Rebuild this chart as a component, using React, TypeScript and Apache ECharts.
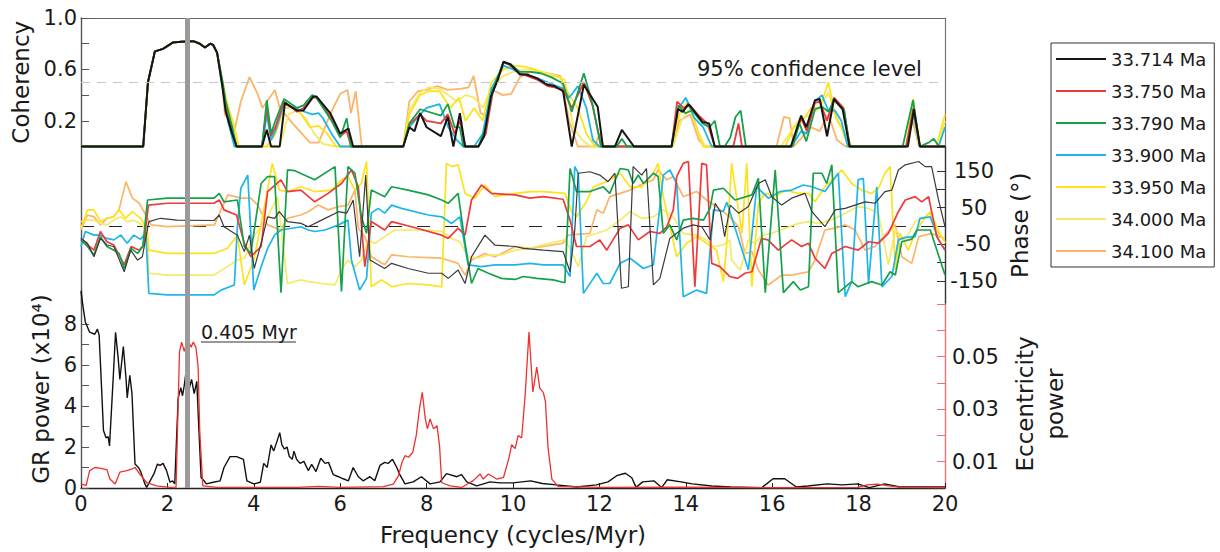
import React, { useEffect, useRef } from "react";
import * as echarts from "echarts";

// ---------- names & colours ----------
const seriesNames = ["33.714 Ma", "33.750 Ma", "33.790 Ma", "33.900 Ma", "33.950 Ma", "34.000 Ma", "34.100 Ma"];
const seriesColors = ["#151515", "#ee3a3a", "#16a04c", "#1eb6ea", "#fde21c", "#f5ea66", "#fbb468"];

// ---------- axis ticks ----------
const cohTickValues = [0.2, 0.4, 0.6, 0.8, 1.0];
const cohLabelValues = [0.2, 0.6, 1.0];
const phaseTickValues = [-150, -100, -50, 0, 50, 100, 150];
const phaseLabelValues = [-150, -50, 50, 150];
const grTickValues = [0, 1, 2, 3, 4, 5, 6, 7, 8];
const grLabelValues = [0, 2, 4, 6, 8];
const eccTickValues = [0.01, 0.02, 0.03, 0.04, 0.05, 0.06, 0.07];
const eccLabelValues = [0.01, 0.03, 0.05];
const CONFIDENCE_LEVEL = 0.5;
const BAND_PERIOD_MYR = 0.405;

// ---------- coherency (frequency, coherency) ----------
const cohPlateau = [[0, 0], [1.44, 0], [1.55, 0.5], [1.71, 0.74], [1.9, 0.76], [2.13, 0.81], [2.33, 0.815], [2.6, 0.82], [2.75, 0.8], [2.87, 0.77], [2.99, 0.8], [3.06, 0.79], [3.15, 0.73]];
const cohBlack = [[3.28, 0.45], [3.35, 0.27], [3.5, 0.1], [3.6, 0], [4.19, 0], [4.3, 0.13], [4.4, 0], [4.6, 0], [4.72, 0.34], [5.0, 0.28], [5.15, 0.28], [5.38, 0.39], [5.45, 0.39], [5.77, 0.26], [6.0, 0.1], [6.19, 0.14], [6.3, 0], [7.46, 0], [7.6, 0.15], [7.72, 0.12], [7.85, 0.26], [8.0, 0.15], [8.33, 0.08], [8.49, 0.23], [8.62, 0], [8.77, 0.26], [8.89, 0], [9.2, 0], [9.33, 0.08], [9.49, 0.39], [9.65, 0.52], [9.78, 0.66], [9.94, 0.64], [10.16, 0.56], [10.32, 0.56], [10.56, 0.53], [10.8, 0.48], [10.96, 0.47], [11.16, 0.43], [11.36, 0], [11.64, 0.48], [11.96, 0.31], [12.08, 0], [12.36, 0], [12.52, 0.13], [12.8, 0], [13.67, 0], [13.82, 0.29], [13.93, 0.27], [14.06, 0.33], [14.23, 0.26], [14.39, 0.19], [14.54, 0.18], [14.67, 0], [16.43, 0], [16.67, 0.24], [16.79, 0.15], [16.99, 0.36], [17.1, 0.37], [17.27, 0.08], [17.43, 0.37], [17.63, 0.29], [17.79, 0], [19.14, 0], [19.28, 0.29], [19.42, 0], [20, 0]];
const cohRed = [[3.28, 0.48], [3.35, 0.3], [3.5, 0.12], [3.6, 0], [4.19, 0], [4.3, 0.3], [4.4, 0.08], [4.5, 0.15], [4.7, 0.35], [5.0, 0.27], [5.15, 0.3], [5.35, 0.38], [5.45, 0.38], [5.8, 0.22], [6.0, 0.08], [6.15, 0.12], [6.25, 0], [7.46, 0], [7.6, 0.17], [7.85, 0.25], [8.0, 0.2], [8.33, 0.18], [8.49, 0.25], [8.65, 0.1], [8.77, 0.2], [8.9, 0], [9.2, 0], [9.37, 0.1], [9.53, 0.42], [9.78, 0.66], [9.94, 0.63], [10.16, 0.57], [10.32, 0.55], [10.56, 0.52], [10.8, 0.47], [10.96, 0.46], [11.16, 0.44], [11.36, 0.3], [11.64, 0.5], [11.84, 0.32], [12.04, 0], [13.67, 0], [13.8, 0.35], [13.95, 0.3], [14.1, 0.32], [14.3, 0.24], [14.5, 0.18], [14.67, 0], [15.1, 0], [15.22, 0.18], [15.3, 0], [16.45, 0], [16.67, 0.22], [16.8, 0.12], [16.99, 0.34], [17.1, 0.35], [17.27, 0.2], [17.43, 0.38], [17.65, 0.3], [17.8, 0], [19.1, 0], [19.27, 0.3], [19.42, 0], [20, 0]];
const cohGreen = [[3.28, 0.5], [3.35, 0.35], [3.5, 0.15], [3.6, 0], [4.19, 0], [4.3, 0.36], [4.4, 0.1], [4.5, 0.2], [4.7, 0.37], [5.0, 0.3], [5.15, 0.32], [5.35, 0.4], [5.45, 0.38], [5.8, 0.2], [6.0, 0.07], [6.15, 0.22], [6.25, 0], [7.46, 0], [7.6, 0.18], [7.85, 0.29], [8.33, 0.24], [8.49, 0.33], [8.65, 0.15], [8.77, 0.15], [8.85, 0], [9.2, 0], [9.37, 0.15], [9.53, 0.44], [9.77, 0.65], [9.94, 0.64], [10.16, 0.58], [10.4, 0.58], [10.64, 0.57], [10.88, 0.54], [11.16, 0.49], [11.36, 0.27], [11.64, 0.57], [11.84, 0.33], [12.04, 0], [12.4, 0], [12.52, 0.06], [12.64, 0], [13.67, 0], [13.83, 0.32], [13.99, 0.26], [14.15, 0.28], [14.39, 0.18], [14.55, 0.15], [14.67, 0.2], [14.79, 0], [14.9, 0], [15.03, 0.07], [15.15, 0.23], [15.27, 0.28], [15.39, 0], [16.47, 0], [16.63, 0.18], [16.79, 0.04], [16.99, 0.29], [17.15, 0.31], [17.3, 0.27], [17.43, 0.36], [17.67, 0.28], [17.79, 0], [19.02, 0], [19.26, 0.36], [19.42, 0], [19.62, 0.03], [19.74, 0.06], [19.86, 0], [20, 0]];
const cohBlue = [[3.28, 0.45], [3.4, 0.2], [3.55, 0], [4.19, 0], [4.3, 0.25], [4.4, 0.05], [4.5, 0.12], [4.7, 0.33], [5.1, 0.28], [5.35, 0.25], [5.5, 0.26], [5.6, 0.22], [5.8, 0.1], [6.0, 0], [7.46, 0], [7.6, 0.15], [7.85, 0.25], [8.0, 0.3], [8.3, 0.33], [8.5, 0.15], [8.7, 0.05], [8.85, 0], [9.1, 0], [9.3, 0.1], [9.5, 0.45], [9.78, 0.63], [10.0, 0.6], [10.16, 0.57], [10.5, 0.54], [10.8, 0.5], [11.16, 0.45], [11.3, 0.38], [11.5, 0.47], [11.7, 0.3], [11.85, 0.05], [12.0, 0], [13.67, 0], [13.8, 0.28], [14.0, 0.38], [14.2, 0.22], [14.4, 0.15], [14.6, 0], [16.45, 0], [16.67, 0.12], [16.8, 0.1], [16.99, 0.35], [17.15, 0.4], [17.3, 0.28], [17.45, 0.28], [17.6, 0.2], [17.75, 0], [19.1, 0], [19.27, 0.25], [19.42, 0], [19.85, 0], [20, 0.15]];
const cohYellow1 = [[3.28, 0.5], [3.35, 0.38], [3.55, 0.15], [3.65, 0], [4.3, 0], [4.5, 0.1], [4.7, 0.3], [5.0, 0.3], [5.3, 0.15], [5.5, 0.16], [5.7, 0.1], [5.9, 0], [7.46, 0], [7.6, 0.25], [7.85, 0.4], [8.05, 0.43], [8.3, 0.43], [8.55, 0.3], [8.75, 0.38], [8.9, 0.2], [9.1, 0.3], [9.3, 0.2], [9.5, 0.5], [9.78, 0.6], [10.0, 0.63], [10.3, 0.62], [10.5, 0.6], [10.8, 0.55], [11.1, 0.54], [11.3, 0.4], [11.5, 0.3], [11.7, 0.1], [11.9, 0], [13.67, 0], [13.85, 0.25], [14.05, 0.35], [14.25, 0.15], [14.4, 0], [16.3, 0], [16.5, 0.15], [16.7, 0.2], [16.9, 0.3], [17.1, 0.3], [17.3, 0.5], [17.45, 0.25], [17.6, 0.15], [17.75, 0], [19.1, 0], [19.26, 0.37], [19.42, 0], [19.8, 0], [20, 0.25]];
const cohYellow2 = [[3.28, 0.45], [3.35, 0.3], [3.5, 0.1], [3.6, 0], [4.6, 0], [4.8, 0.25], [5.0, 0.28], [5.2, 0.22], [5.4, 0.1], [5.6, 0.02], [5.9, 0], [7.46, 0], [7.6, 0.28], [7.85, 0.42], [8.05, 0.46], [8.3, 0.45], [8.5, 0.4], [8.7, 0.35], [8.9, 0.4], [9.1, 0.38], [9.3, 0.3], [9.5, 0.45], [9.78, 0.55], [10.0, 0.58], [10.3, 0.6], [10.6, 0.59], [11.0, 0.55], [11.2, 0.52], [11.4, 0.15], [11.6, 0.05], [11.8, 0], [13.7, 0], [13.9, 0.2], [14.1, 0.3], [14.3, 0.1], [14.45, 0], [16.2, 0], [16.4, 0.1], [16.6, 0.2], [16.9, 0.25], [17.1, 0.3], [17.3, 0.42], [17.5, 0.2], [17.7, 0.1], [17.85, 0], [19.1, 0], [19.25, 0.3], [19.4, 0], [19.85, 0], [20, 0.2]];
const cohOrange = [[3.28, 0.45], [3.33, 0.25], [3.45, 0.2], [3.55, 0.12], [3.7, 0.35], [3.9, 0.54], [4.1, 0.4], [4.2, 0.3], [4.49, 0.44], [4.6, 0.3], [4.9, 0.18], [5.3, 0.03], [5.5, 0.03], [5.78, 0.26], [6.0, 0.41], [6.17, 0.44], [6.25, 0.26], [6.36, 0.43], [6.5, 0], [7.46, 0], [7.6, 0.35], [7.8, 0.43], [8.0, 0.44], [8.25, 0.47], [8.49, 0.44], [8.81, 0.45], [8.97, 0.46], [9.09, 0.55], [9.25, 0.26], [9.37, 0.24], [9.53, 0.44], [9.76, 0.4], [9.96, 0.41], [10.16, 0.54], [10.4, 0.58], [10.8, 0.57], [11.1, 0.55], [11.3, 0.2], [11.5, 0], [11.9, 0], [12.0, 0.1], [12.1, 0], [13.7, 0], [13.85, 0.2], [14.1, 0.25], [14.3, 0.05], [14.45, 0], [16.1, 0], [16.27, 0.23], [16.4, 0.22], [16.5, 0], [16.9, 0.15], [17.1, 0.12], [17.3, 0.25], [17.5, 0.05], [17.7, 0], [19.1, 0], [19.25, 0.2], [19.4, 0], [20, 0]];

// ---------- phase (frequency, degrees) ----------
const phBlack = [[0, -34], [0.15, -47], [0.3, -84], [0.45, -34], [0.6, -52], [0.76, -56], [1.0, -125], [1.15, -66], [1.31, -93], [1.42, -84], [1.57, 12], [1.84, 21], [2.22, 16], [3.08, 15], [3.2, 30], [3.31, -2], [3.62, -25], [3.78, -70], [3.9, -25], [4.01, -116], [4.17, -47], [4.32, 25], [4.48, 21], [4.59, 39], [4.78, 12], [5.09, 7], [5.26, -2], [5.57, 16], [5.96, 39], [6.15, 35], [6.3, 71], [6.45, -84], [6.59, 139], [6.69, -93], [7.03, -116], [7.19, -102], [7.57, -116], [8.04, -129], [8.35, -129], [8.5, -143], [8.73, -120], [8.89, -157], [9.04, -84], [9.35, -25], [9.58, -52], [10.05, -56], [10.24, -61], [10.7, -66], [11.16, -70], [11.32, -125], [11.43, -11], [11.51, 144], [11.78, 148], [12.01, 139], [12.2, 121], [12.36, 144], [12.51, -170], [12.67, -166], [12.78, 162], [12.98, 139], [13.09, 157], [13.25, -161], [13.4, -143], [13.63, -34], [13.94, -6], [14.17, 3], [14.37, -2], [14.56, -38], [14.68, 62], [14.8, 39], [14.9, -29], [15.03, 57], [15.22, 35], [15.45, 53], [15.68, 116], [15.84, 126], [15.99, 80], [16.22, 57], [16.45, 76], [16.76, 89], [16.92, 39], [17.22, -2], [17.46, 44], [17.69, 48], [17.92, 57], [18.15, 66], [18.38, 62], [18.61, 94], [18.77, 98], [18.92, 153], [19.08, 167], [19.39, 176], [19.54, 162], [19.69, 162], [19.85, 71], [20.0, -2]];
const phRed = [[0, -34], [0.15, -52], [0.3, -66], [0.45, -15], [0.6, -43], [0.76, -52], [1.0, -106], [1.16, -56], [1.35, -66], [1.45, -52], [1.56, 57], [2.0, 62], [3.08, 62], [3.2, 71], [3.31, 44], [3.6, 30], [3.78, -47], [3.93, -84], [4.17, -56], [4.32, 94], [4.63, 126], [4.78, 94], [5.09, 98], [5.41, 66], [5.72, 89], [6.03, 116], [6.26, 153], [6.42, 107], [6.57, -111], [6.72, 12], [7.03, -11], [7.19, 12], [7.65, -2], [8.35, -25], [8.5, -34], [8.73, -6], [8.89, -25], [9.04, 71], [9.27, 112], [9.5, 89], [10.05, 85], [10.39, 76], [10.7, 80], [11.16, 73], [11.32, 16], [11.47, -56], [11.78, -56], [12.01, -38], [12.17, -66], [12.48, -6], [12.67, 3], [12.9, -38], [13.17, -15], [13.4, -20], [13.56, -2], [13.71, 44], [13.79, 135], [13.94, 171], [14.06, 176], [14.21, -166], [14.37, 171], [14.48, 167], [14.6, -102], [14.79, -111], [15.02, -138], [15.2, -143], [15.37, -129], [15.53, -125], [15.75, -34], [15.9, -38], [16.14, -66], [16.45, -38], [16.68, -56], [16.84, -47], [16.99, -88], [17.22, -116], [17.38, -75], [17.69, -56], [17.99, -66], [18.23, -43], [18.46, -47], [18.69, -20], [18.92, 39], [19.08, 71], [19.31, 80], [19.46, 66], [19.62, 80], [19.81, -29], [20.0, -66]];
const phGreen = [[0, -38], [0.15, -56], [0.3, -79], [0.45, -29], [0.6, -56], [0.76, -66], [0.88, -75], [1.0, -116], [1.16, -61], [1.31, -75], [1.43, -56], [1.54, 71], [2.0, 76], [3.08, 76], [3.2, 89], [3.31, 66], [3.62, 71], [3.78, -56], [3.93, -75], [4.17, 116], [4.32, 135], [4.48, 135], [4.63, -182], [4.78, 153], [4.95, 151], [5.41, 126], [5.88, 162], [6.03, -179], [6.18, 162], [6.34, 144], [6.49, 25], [6.61, -20], [6.72, 98], [7.03, 80], [7.19, 107], [7.57, 98], [8.04, 85], [8.35, 71], [8.5, 62], [8.73, 89], [8.89, -47], [9.04, -157], [9.19, -116], [9.43, -129], [9.73, -143], [10.05, -146], [10.24, -138], [10.55, -143], [10.93, -147], [11.2, -155], [11.32, 157], [11.47, 94], [11.78, 94], [12.09, 107], [12.24, 89], [12.48, 157], [12.67, 153], [12.78, 116], [12.9, 139], [13.02, 116], [13.25, 144], [13.36, 135], [13.48, -20], [13.63, 3], [13.79, -38], [13.94, 16], [14.17, 21], [14.41, 16], [14.56, 48], [14.64, 98], [14.87, 103], [15.14, 71], [15.53, 85], [15.68, 130], [15.84, -182], [16.07, 153], [16.26, -182], [16.49, -152], [16.65, -175], [16.84, -166], [16.95, 144], [17.15, 144], [17.26, 116], [17.38, 167], [17.53, -182], [17.84, -152], [17.99, -166], [18.3, -152], [18.54, -161], [18.73, -125], [18.85, -134], [19.0, -43], [19.23, -36], [19.35, -11], [19.66, -11], [20.0, -134]];
const phBlue = [[0, -56], [0.1, -15], [0.3, -25], [0.45, -25], [0.6, -34], [0.76, -38], [0.92, -25], [1.07, -47], [1.22, -25], [1.38, -36], [1.5, -20], [1.57, -184], [2.0, -188], [3.08, -188], [3.24, -175], [3.55, -161], [3.62, -2], [3.7, 103], [3.86, 139], [4.0, -175], [4.17, -111], [4.32, -61], [4.48, -25], [4.63, -11], [5.09, -2], [5.26, -11], [5.41, -15], [5.65, -11], [5.96, 3], [6.18, 16], [6.26, -93], [6.45, -175], [6.61, -143], [6.72, 35], [6.88, 48], [7.03, 35], [7.19, 57], [7.42, 48], [8.04, 30], [8.35, 25], [8.58, 7], [8.77, 25], [8.96, -106], [9.27, -111], [9.58, -106], [10.05, -106], [10.39, -102], [10.7, -106], [11.16, -106], [11.32, -138], [11.43, 162], [11.51, 144], [11.63, -184], [11.94, -129], [12.09, -157], [12.24, -157], [12.48, -102], [12.71, -88], [13.02, -116], [13.25, -106], [13.48, 139], [13.63, 153], [13.79, 116], [13.94, -193], [14.25, -175], [14.48, -184], [14.64, 44], [14.87, 40], [14.95, 65], [15.45, -120], [15.64, 107], [15.91, 76], [16.18, 94], [16.45, 98], [16.72, 112], [16.92, 107], [17.22, 94], [17.53, 144], [17.69, -193], [17.84, -152], [17.99, 126], [18.11, 130], [18.23, -157], [18.42, 107], [18.54, -166], [18.77, -138], [18.92, -38], [19.08, -31], [19.31, -29], [19.42, 21], [19.66, 25], [19.85, -38], [20.0, -66]];
const phYellow1 = [[0, -6], [0.15, 44], [0.3, 44], [0.45, 12], [0.6, 21], [0.76, 25], [0.88, 44], [1.03, 21], [1.19, 39], [1.38, 21], [1.53, -6], [1.57, -66], [2.0, -75], [3.08, -75], [3.39, -61], [3.62, -25], [3.78, -161], [4.0, -93], [4.2, 25], [4.43, 171], [4.59, 98], [4.78, 94], [5.09, 107], [5.41, 94], [5.8, 98], [6.03, 126], [6.18, 135], [6.34, 98], [6.49, 116], [6.61, 176], [6.72, -166], [6.96, -147], [7.19, -166], [7.57, -157], [8.04, -161], [8.35, -166], [8.46, 171], [8.58, 162], [8.73, 167], [8.89, 89], [9.12, 76], [9.35, 112], [9.58, 80], [10.05, 89], [10.39, 94], [10.7, 94], [11.2, 89], [11.36, 39], [11.47, 25], [11.7, 66], [11.86, 107], [12.17, 121], [12.48, 144], [12.71, 107], [12.98, 107], [13.25, 144], [13.36, 171], [13.48, 80], [13.79, -84], [14.02, -47], [14.25, -29], [14.48, -47], [14.71, -66], [14.87, -152], [14.95, -47], [15.06, 171], [15.3, -20], [15.41, 171], [15.53, -166], [15.68, 62], [15.84, 89], [16.07, 80], [16.3, 98], [16.6, 89], [16.84, 89], [16.99, 66], [17.22, 107], [17.46, 135], [17.61, 153], [17.84, 116], [18.07, 98], [18.3, 89], [18.46, 103], [18.61, 144], [18.73, 162], [18.85, -120], [18.96, -20], [19.15, -66], [19.31, -20], [19.54, 25], [19.66, 35], [19.85, -20], [20.0, -43]];
const phYellow2 = [[0, 12], [0.15, 16], [0.3, 16], [0.45, 7], [0.6, 3], [0.76, 16], [0.92, 25], [1.07, 12], [1.22, 16], [1.42, 3], [1.53, -15], [1.57, -129], [2.0, -134], [3.08, -134], [3.39, -111], [3.62, -93], [3.78, -88], [4.0, -29], [4.32, 25], [4.55, 80], [4.78, -157], [5.09, -147], [5.26, -152], [5.57, -157], [5.88, -161], [6.03, -120], [6.18, -93], [6.34, -111], [6.49, -93], [6.65, -38], [6.8, -47], [7.03, -29], [7.26, -11], [8.04, -11], [8.35, -15], [8.58, -34], [8.77, -43], [8.96, -84], [9.19, -88], [9.43, -79], [9.73, -79], [10.05, -66], [10.39, -61], [10.86, -47], [11.2, -38], [11.32, -61], [11.51, -111], [11.7, -29], [11.94, -20], [12.17, -11], [12.48, 16], [12.71, 39], [12.98, 21], [13.25, 25], [13.48, 44], [13.71, 25], [13.94, -20], [14.25, -25], [14.48, -38], [14.64, -56], [14.87, -52], [15.02, -38], [15.06, -93], [15.26, -120], [15.45, -38], [15.6, -47], [15.76, -25], [15.99, -20], [16.3, -6], [16.61, 7], [16.84, 12], [17.07, 7], [17.22, 12], [17.46, 21], [17.76, 39], [17.99, 53], [18.23, 48], [18.46, 35], [18.69, -106], [18.85, -11], [19.08, -38], [19.31, 12], [19.54, 25], [19.66, 39], [19.85, -11], [20.0, -47]];
const phOrange = [[0, -11], [0.15, 30], [0.3, 25], [0.45, 3], [0.6, 21], [0.76, 25], [0.88, 44], [1.04, 121], [1.19, 76], [1.35, 62], [1.5, 30], [1.62, 3], [2.0, -2], [3.09, 3], [3.24, 44], [3.4, 85], [3.7, 76], [3.93, 76], [4.09, 57], [4.32, 3], [4.63, -11], [4.78, 21], [5.09, 30], [5.26, 39], [5.49, 57], [5.72, 44], [5.96, 53], [6.18, 57], [6.34, 98], [6.42, -6], [6.57, -29], [6.72, -84], [7.03, -106], [7.19, -79], [7.57, -84], [8.35, -88], [8.73, -102], [8.89, -134], [9.04, -93], [9.35, -75], [9.58, -84], [9.89, -66], [10.05, -56], [10.39, -61], [10.7, -56], [11.16, -47], [11.28, -25], [11.78, -20], [11.94, 44], [12.09, 35], [12.24, 80], [12.48, 89], [12.71, 98], [13.02, 116], [13.25, 126], [13.36, 153], [13.56, 126], [13.71, 135], [13.94, 80], [14.25, 94], [14.48, 71], [14.71, 53], [15.02, 25], [15.22, -2], [15.37, -75], [15.53, -70], [15.68, -120], [15.91, -161], [16.22, -134], [16.45, -134], [16.84, -125], [16.99, -93], [17.22, -11], [17.46, -6], [17.69, 3], [17.92, -11], [18.15, -66], [18.38, -56], [18.61, -25], [18.85, 3], [19.0, -84], [19.23, -102], [19.39, -29], [19.69, -20], [19.85, -29], [20.0, -34]];

// ---------- spectra (frequency, power) ----------
const grPower = [[0, 9.6], [0.05, 8.8], [0.1, 8.1], [0.2, 7.6], [0.32, 7.5], [0.38, 7.75], [0.42, 7.45], [0.48, 4.7], [0.52, 2.8], [0.58, 2.45], [0.63, 2.5], [0.66, 2.05], [0.75, 5.55], [0.8, 7.6], [0.86, 6.35], [0.9, 5.3], [0.98, 6.9], [1.04, 5.4], [1.07, 4.4], [1.13, 5.5], [1.18, 4.6], [1.25, 1.17], [1.33, 1.0], [1.38, 0.8], [1.48, 0.2], [1.52, 0.03], [1.6, 0.35], [1.69, 0.7], [1.77, 1.17], [1.83, 1.1], [1.9, 1.2], [1.98, 0.85], [2.06, 0.28], [2.12, 0.35], [2.17, 0.2], [2.25, 4.4], [2.31, 4.9], [2.35, 4.5], [2.39, 5.0], [2.44, 5.8], [2.5, 4.8], [2.56, 5.3], [2.62, 4.6], [2.68, 5.2], [2.73, 2.8], [2.78, 0.5], [2.85, 0.35], [2.9, 0.2], [3.06, 0.28], [3.22, 0.35], [3.31, 1.0], [3.45, 1.53], [3.6, 1.53], [3.76, 1.4], [3.84, 0.35], [4.0, 0.2], [4.15, 0.28], [4.23, 1.2], [4.31, 1.0], [4.4, 2.1], [4.46, 1.8], [4.54, 2.3], [4.6, 2.7], [4.65, 2.1], [4.71, 1.9], [4.77, 2.0], [4.82, 1.55], [4.89, 1.4], [4.93, 1.8], [4.99, 1.4], [5.07, 1.2], [5.16, 1.3], [5.26, 0.85], [5.34, 1.15], [5.44, 0.8], [5.55, 1.45], [5.65, 1.2], [5.73, 1.25], [5.84, 0.65], [5.96, 0.55], [6.07, 0.45], [6.19, 0.35], [6.3, 1.0], [6.42, 0.55], [6.53, 0.35], [6.69, 0.55], [6.8, 0.35], [6.92, 1.1], [7.03, 1.25], [7.11, 1.2], [7.21, 1.4], [7.31, 1.0], [7.38, 0.65], [7.5, 0.2], [7.69, 0.3], [7.88, 0.55], [8.08, 0.2], [8.31, 0.3], [8.46, 0.7], [8.7, 0.55], [8.81, 0.65], [8.93, 0.3], [9.16, 0.1], [9.47, 0.3], [9.7, 0.25], [10.0, 0.25], [10.41, 0.35], [10.68, 0.22], [11.0, 0.15], [11.48, 0.05], [11.93, 0.15], [12.2, 0.3], [12.4, 0.6], [12.6, 0.72], [12.75, 0.5], [12.85, 0.03], [13.0, 0.3], [13.26, 0.35], [13.44, 0.02], [13.57, 0.4], [13.89, 0.3], [14.15, 0.2], [14.6, 0.1], [15.04, 0.05], [15.76, 0.02], [16.02, 0.45], [16.29, 0.45], [16.56, 0.05], [16.82, 0.1], [17.27, 0.2], [17.63, 0.15], [17.98, 0.2], [18.25, 0.02], [18.6, 0.2], [18.96, 0.05], [20, 0.05]];
const eccPower = [[0, 0.0015], [0.12, 0.001], [0.2, 0.0066], [0.32, 0.0078], [0.43, 0.0076], [0.6, 0.007], [0.67, 0.0034], [0.79, 0.0015], [0.9, 0.006], [1.06, 0.0066], [1.17, 0.0072], [1.25, 0.0078], [1.33, 0.006], [1.52, 0.002], [1.75, 0.0008], [2.06, 0.0002], [2.2, 0.0003], [2.28, 0.0517], [2.33, 0.0555], [2.39, 0.052], [2.47, 0.0567], [2.55, 0.0535], [2.6, 0.0555], [2.66, 0.0535], [2.71, 0.0465], [2.75, 0.0212], [2.82, 0.0008], [3.14, 0.0002], [5.0, 0.0002], [5.5, 0.0006], [6.0, 0.0002], [7.0, 0.0005], [7.23, 0.0015], [7.35, 0.0047], [7.43, 0.0098], [7.5, 0.0123], [7.58, 0.0117], [7.68, 0.0136], [7.76, 0.02], [7.84, 0.0307], [7.9, 0.0364], [7.97, 0.0263], [8.02, 0.0225], [8.08, 0.0263], [8.16, 0.0225], [8.24, 0.0237], [8.3, 0.016], [8.35, 0.002], [8.55, 0.0008], [8.81, 0.0002], [9.08, 0.0028], [9.24, 0.0053], [9.31, 0.0034], [9.43, 0.0053], [9.62, 0.0034], [9.78, 0.004], [9.9, 0.011], [9.97, 0.0165], [10.05, 0.015], [10.12, 0.02], [10.2, 0.019], [10.28, 0.035], [10.37, 0.0593], [10.46, 0.0365], [10.55, 0.046], [10.62, 0.038], [10.7, 0.0364], [10.75, 0.033], [10.81, 0.0156], [10.9, 0.0034], [11.04, 0.0006], [12.0, 0.0002], [14.0, 0.0003], [16.0, 0.0001], [17.98, 0.0002], [18.2, 0.0012], [18.43, 0.0015], [18.7, 0.0008], [19.0, 0.0002], [20, 0.0001]];

const cohSeries = [cohBlack, cohRed, cohGreen, cohBlue, cohYellow1, cohYellow2, cohOrange];
const phaseSeries = [phBlack, phRed, phGreen, phBlue, phYellow1, phYellow2, phOrange];

const FONT = "DejaVu Sans";
const TXT = "#1a1a1a";
const L = 81;
const W = 864;

export default function App() {
  const ref = useRef<HTMLDivElement>(null);
  useEffect(() => {
    if (!ref.current) return;
    const chart = echarts.init(ref.current, undefined, { renderer: "svg" });
    const drawOrder = [6, 5, 4, 3, 1, 2, 0];
    const hiddenX = (gi: number) => ({ gridIndex: gi, type: "value", min: 0, max: 20, show: false });
    const series: any[] = [];
    drawOrder.forEach((i, k) => {
      const s: any = {
        name: seriesNames[i], type: "line", xAxisIndex: 0, yAxisIndex: 0,
        data: [...cohPlateau, ...cohSeries[i]], showSymbol: false, symbol: "none", clip: false,
        color: seriesColors[i], itemStyle: { color: seriesColors[i] },
        lineStyle: { color: seriesColors[i], width: i === 0 ? 2 : 1.8 }, silent: true,
      };
      if (k === 0) {
        s.markLine = {
          silent: true, symbol: ["none", "none"], label: { show: false },
          lineStyle: { color: "#c4c4c4", width: 1, type: [9, 7] },
          data: [{ yAxis: CONFIDENCE_LEVEL }],
        };
      }
      series.push(s);
    });
    drawOrder.forEach((i, k) => {
      const s: any = {
        name: seriesNames[i], type: "line", xAxisIndex: 1, yAxisIndex: 3,
        data: phaseSeries[i], showSymbol: false, symbol: "none", clip: false,
        color: seriesColors[i], itemStyle: { color: seriesColors[i] },
        lineStyle: { color: i === 0 ? "#3a3a3a" : seriesColors[i], width: i === 0 ? 1.2 : 1.7 }, silent: true,
      };
      if (k === 0) {
        s.markLine = {
          silent: true, symbol: ["none", "none"], label: { show: false },
          lineStyle: { color: "#222", width: 1, type: [13, 15] },
          data: [{ yAxis: 0 }], z: 3,
        };
      }
      series.push(s);
    });
    series.push({
      name: "GR power", type: "line", xAxisIndex: 2, yAxisIndex: 4, data: grPower,
      showSymbol: false, symbol: "none", lineStyle: { color: "#111", width: 1.4 }, silent: true, clip: false,
    });
    series.push({
      name: "Eccentricity power", type: "line", xAxisIndex: 3, yAxisIndex: 5, data: eccPower,
      showSymbol: false, symbol: "none", lineStyle: { color: "#ee3030", width: 1.3 }, silent: true,
    });
    series.push({
      name: "band", type: "line", xAxisIndex: 4, yAxisIndex: 6, data: [[1 / BAND_PERIOD_MYR, 0]],
      showSymbol: false, symbol: "none", lineStyle: { width: 0 }, silent: true, z: 10,
      markLine: {
        silent: true, symbol: ["none", "none"], label: { show: false },
        lineStyle: { color: "#9a9a9a", width: 5, type: "solid", opacity: 1 },
        data: [{ xAxis: 1 / BAND_PERIOD_MYR }],
      },
    });

    const lineOnly = (color: string, width = 1.4) => ({ show: true, onZero: false, lineStyle: { color, width } });

    chart.setOption({
      animation: false,
      backgroundColor: "#fff",
      textStyle: { fontFamily: FONT, color: TXT },
      grid: [
        { left: L, width: W, top: 18, height: 128.5 },
        { left: L, width: W, top: 146.5, height: 157.5 },
        { left: L, width: W, top: 290, height: 198 },
        { left: L, width: W, top: 304, height: 184 },
        { left: L, width: W, top: 18, height: 470 },
      ],
      xAxis: [
        { gridIndex: 0, type: "value", min: 0, max: 20, position: "top", axisLine: lineOnly("#666", 1.2), axisTick: { show: false }, axisLabel: { show: false }, splitLine: { show: false } },
        hiddenX(1),
        {
          gridIndex: 2, type: "value", min: 0, max: 20, interval: 2, position: "bottom",
          axisLine: lineOnly("#222", 1.4),
          axisTick: { show: true, inside: true, length: 5, lineStyle: { color: "#222" } },
          axisLabel: { fontSize: 21, color: TXT, margin: 5, showMinLabel: true, showMaxLabel: true },
          splitLine: { show: false },
          name: "Frequency (cycles/Myr)", nameLocation: "middle", nameGap: 35,
          nameTextStyle: { fontSize: 23, color: TXT },
        },
        hiddenX(3),
        hiddenX(4),
      ],
      yAxis: [
        {
          gridIndex: 0, type: "value", min: 0, max: 1, position: "left",
          axisLine: lineOnly("#555", 1.4),
          axisTick: { show: true, inside: true, length: 8, customValues: cohTickValues, lineStyle: { color: "#555" } },
          axisLabel: { customValues: cohLabelValues, formatter: (v: number) => v.toFixed(1), fontSize: 21, color: TXT, margin: 4 },
          splitLine: { show: false },
          name: "Coherency", nameLocation: "middle", nameGap: 41, nameRotate: 90,
          nameTextStyle: { fontSize: 23, color: TXT },
        },
        { gridIndex: 0, type: "value", min: 0, max: 1, position: "right", axisLine: lineOnly("#777", 1.2), axisTick: { show: false }, axisLabel: { show: false }, splitLine: { show: false } },
        { gridIndex: 1, type: "value", min: -213, max: 217, position: "left", axisLine: lineOnly("#555", 1.4), axisTick: { show: false }, axisLabel: { show: false }, splitLine: { show: false } },
        {
          gridIndex: 1, type: "value", min: -213, max: 217, position: "right",
          axisLine: lineOnly("#333", 1.4),
          axisTick: { show: true, inside: true, length: 8, customValues: phaseTickValues, lineStyle: { color: "#333" } },
          axisLabel: { customValues: phaseLabelValues, fontSize: 21, color: TXT, margin: 29, align: "center" },
          splitLine: { show: false },
          name: "Phase (°)", nameLocation: "middle", nameGap: 62, nameRotate: 90,
          nameTextStyle: { fontSize: 23, color: TXT },
        },
        {
          gridIndex: 2, type: "value", min: 0, max: 198 / 20.5, position: "left",
          axisLine: lineOnly("#555", 1.4),
          axisTick: { show: true, inside: true, length: 8, customValues: grTickValues, lineStyle: { color: "#555" } },
          axisLabel: { customValues: grLabelValues, fontSize: 21, color: TXT, margin: 4 },
          splitLine: { show: false },
          name: "GR power (x10⁴)", nameLocation: "middle", nameGap: 28, nameRotate: 90,
          nameTextStyle: { fontSize: 23, color: TXT, padding: [0, 0, 0, 0] },
        },
        {
          gridIndex: 3, type: "value", min: 0, max: 0.07, position: "right",
          axisLine: lineOnly("#f07070", 1.4),
          axisTick: { show: true, inside: true, length: 8, customValues: eccTickValues, lineStyle: { color: "#f07070" } },
          axisLabel: { customValues: eccLabelValues, formatter: (v: number) => v.toFixed(2), fontSize: 21, color: TXT, margin: 7 },
          splitLine: { show: false },
          name: "Eccentricity\npower", nameLocation: "middle", nameGap: 58, nameRotate: 90,
          nameTextStyle: { fontSize: 23, color: TXT, lineHeight: 30, padding: [0, 16, 0, 0] },
        },
        { gridIndex: 4, type: "value", min: 0, max: 1, show: false },
      ],
      legend: {
        data: seriesNames, orient: "vertical", left: 1051, top: 43,
        padding: [6, 8, 6, 5], itemGap: 12, itemWidth: 50, itemHeight: 2, icon: "rect",
        borderColor: "#333", borderWidth: 1, backgroundColor: "#fff",
        textStyle: { fontSize: 18, lineHeight: 20, color: TXT, fontFamily: FONT },
        selectedMode: false,
      },
      graphic: [
        { type: "text", left: 697, top: 58, style: { text: "95% confidence level", fontSize: 21, fontFamily: FONT, fill: TXT } },
        { type: "text", left: 201, top: 322, style: { text: "0.405 Myr", fontSize: 19, fontFamily: FONT, fill: TXT } },
        { type: "line", shape: { x1: 201, y1: 342, x2: 296, y2: 342 }, style: { stroke: "#333", lineWidth: 1 } },
      ],
      series,
    });
    return () => chart.dispose();
  }, []);
  return <div ref={ref} style={{ position: "fixed", left: 0, top: 0, width: 1220, height: 552, background: "#fff" }} />;
}
